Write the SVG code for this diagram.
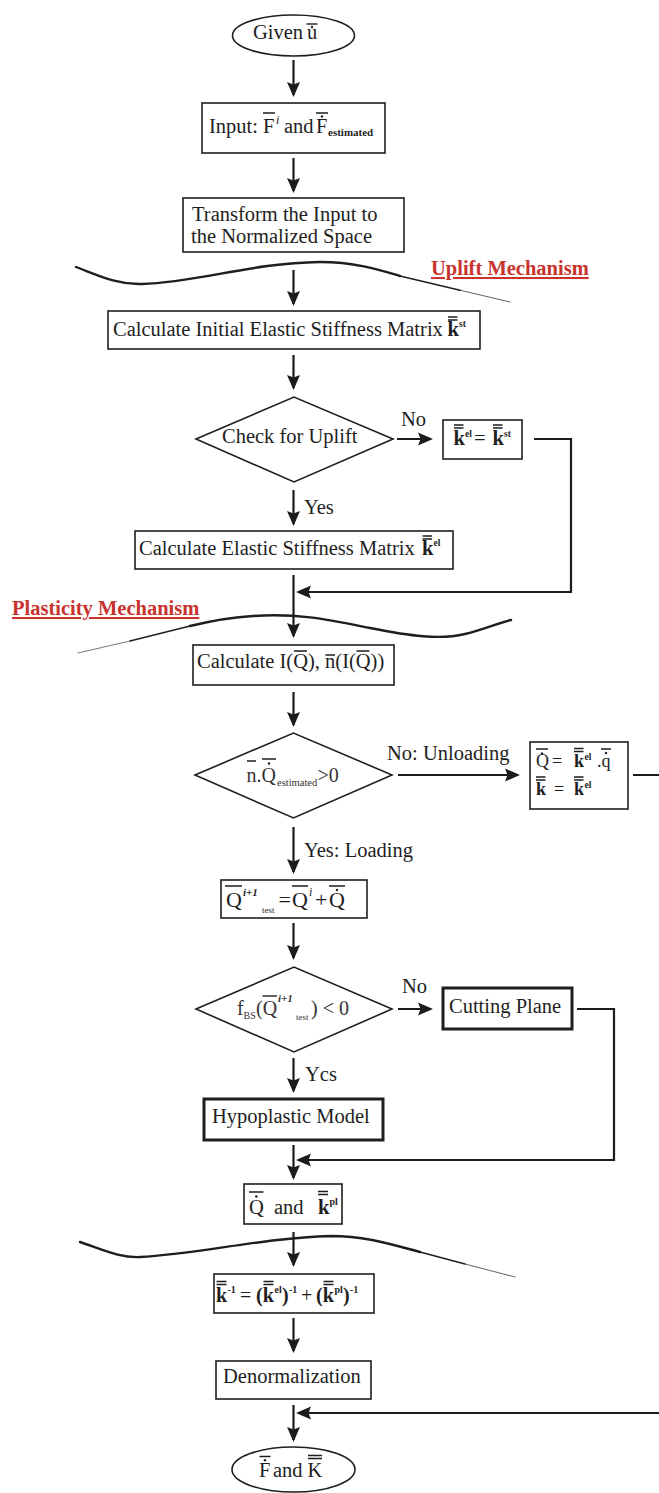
<svg xmlns="http://www.w3.org/2000/svg" width="659" height="1493" viewBox="0 0 659 1493">
  <defs>
    <marker id="ah" markerUnits="userSpaceOnUse" markerWidth="16" markerHeight="14" refX="13" refY="6.5" orient="auto" viewBox="0 0 16 13">
      <path d="M0,0 L15,6.5 L0,13 L2.5,6.5 Z" fill="#1c1c1c"/>
    </marker>
    <style>
      .t { font-family: "Liberation Serif", "Times New Roman", serif; font-size: 20.5px; fill: #1e1e1e; }
      .b { font-weight: bold; }
      .it { font-style: italic; }
      .gr { fill: #333; }
      .f9 { font-size: 9px; }
      .f95 { font-size: 9.5px; }
      .f10 { font-size: 10px; }
      .f105 { font-size: 10.5px; }
      .f11 { font-size: 11px; }
      .f12 { font-size: 12px; }
      .f18 { font-size: 18px; }
      .f20 { font-size: 20px; }
      .f22 { font-size: 22px; }
      .box { fill: #fff; stroke: #1e1e1e; stroke-width: 1.6; }
      .thick { stroke-width: 3; }
      .ov { fill: none; stroke: #1e1e1e; stroke-width: 1.4; }
      .dot { fill: #1e1e1e; }
      .conn { fill: none; stroke: #1c1c1c; stroke-width: 2.2; }
      .arr { marker-end: url(#ah); }
      .wave { fill: none; stroke: #1e1e1e; stroke-linecap: round; }
      .sec { font-family: "Liberation Serif", "Times New Roman", serif; font-size: 20.5px; font-weight: bold; fill: #c8332e; text-decoration: underline; }
    </style>
  </defs>

  <rect width="659" height="1493" fill="#fff"/>

  <!-- section dividers -->
  <g id="dividers">
    <path class="wave" stroke-width="2.4" d="M76,267 C100,276 118,285 142,284 C200,282 250,263 320,262 C355,262 380,270 400,276"/>
    <path class="wave" stroke-width="1.4" d="M400,276 L460,290.2"/>
    <path class="wave" stroke-width="0.7" stroke="#777" d="M460,290.2 L510,302"/>

    <path class="wave" stroke-width="0.6" stroke="#777" d="M78,653 L130,641"/>
    <path class="wave" stroke-width="1.3" d="M130,641 L190,626"/>
    <path class="wave" stroke-width="2.4" d="M190,626 C215,620 235,617 253,616 C300,613 330,620 370,628 C410,636 440,640 465,634 C485,629 498,623 511,620"/>

    <path class="wave" stroke-width="2.4" d="M80,1242 C104,1250 120,1258 140,1257 C200,1254 260,1238 331,1236 C365,1236 390,1244 420,1252"/>
    <path class="wave" stroke-width="1.4" d="M420,1252 L465,1264"/>
    <path class="wave" stroke-width="0.7" stroke="#777" d="M465,1264 L515,1277"/>

    <text class="sec" x="431" y="275">Uplift Mechanism</text>
    <text class="sec" x="12" y="615">Plasticity Mechanism</text>
  </g>

  <!-- connectors -->
  <g id="connectors">
    <path class="conn arr" d="M293.5,60 V95"/>
    <path class="conn arr" d="M293.5,158 V191"/>
    <path class="conn arr" d="M293.5,270 V304"/>
    <path class="conn arr" d="M293.5,355 V388"/>
    <path class="conn arr" d="M397,439 H431"/>
    <path class="conn arr" d="M534,439 H571 V592 H298"/>
    <path class="conn arr" d="M293.5,490 V524"/>
    <path class="conn arr" d="M293.5,575 V636"/>
    <path class="conn arr" d="M293.5,692 V725"/>
    <path class="conn arr" d="M398,775 H518"/>
    <path class="conn arr" d="M633,775 H672 V1413 H298"/>
    <path class="conn arr" d="M293.5,827 V872"/>
    <path class="conn arr" d="M293.5,923 V958"/>
    <path class="conn arr" d="M398,1009 H431"/>
    <path class="conn arr" d="M577,1009 H614 V1160 H298"/>
    <path class="conn arr" d="M293.5,1058 V1091"/>
    <path class="conn arr" d="M293.5,1145 V1178"/>
    <path class="conn arr" d="M293.5,1232 V1265"/>
    <path class="conn arr" d="M293.5,1318 V1351"/>
    <path class="conn arr" d="M293.5,1405 V1440"/>

    <text class="t" x="401" y="426">No</text>
    <text class="t" x="304" y="514">Yes</text>
    <text class="t" x="387" y="760">No: Unloading</text>
    <text class="t" x="304" y="857">Yes: Loading</text>
    <text class="t" x="402" y="993">No</text>
    <text class="t" x="305" y="1081">Ycs</text>
  </g>

  <!-- start -->
  <g id="start">
    <ellipse class="box" cx="293.5" cy="35.5" rx="61" ry="20.5"/>
    <text class="t" x="253" y="39">Given</text>
    <text class="t" x="307" y="39">u</text>
    <path class="ov" d="M306.5,24 h11"/>
    <circle class="dot" cx="312" cy="27" r="1.2"/>
  </g>

  <g id="input">
    <rect class="box" x="202" y="103" width="183" height="50"/>
    <text class="t" x="209" y="133">Input:</text>
    <text class="t" x="263" y="133">F</text>
    <text class="t it f12" x="276" y="124">i</text>
    <text class="t" x="284" y="133">and</text>
    <text class="t" x="316" y="133">F</text>
    <text class="t b f11" x="328" y="136">estimated</text>
    <path class="ov" d="M263,113 h12 M316,113 h12"/>
    <circle class="dot" cx="322" cy="116.5" r="1.2"/>
  </g>

  <g id="transform">
    <rect class="box" x="183" y="198" width="221" height="54"/>
    <text class="t" x="192" y="221">Transform the Input to</text>
    <text class="t" x="191" y="243">the Normalized Space</text>
  </g>

  <g id="initial-stiffness">
    <rect class="box" x="108" y="311" width="372" height="38"/>
    <text class="t" x="113" y="336">Calculate Initial Elastic Stiffness Matrix</text>
    <text class="t b" x="447.5" y="336">k</text>
    <text class="t b f95" x="459" y="327">st</text>
    <path class="ov" d="M448,317 h9.5 M448,320 h9.5"/>
  </g>

  <g id="check-uplift">
    <polygon class="box" points="196,439 294,397 393,439 294,482"/>
    <text class="t" x="222" y="443">Check for Uplift</text>
  </g>

  <g id="k-el-equals-k-st">
    <rect class="box" x="443" y="420" width="79" height="39"/>
    <text class="t b" x="453.5" y="445">k</text>
    <text class="t b f95" x="465" y="437">el</text>
    <text class="t" x="474" y="445">=</text>
    <text class="t b" x="492.5" y="445">k</text>
    <text class="t b f95" x="504" y="437">st</text>
    <path class="ov" d="M454,425 h9.5 M454,428 h9.5 M493,425 h9.5 M493,428 h9.5"/>
  </g>

  <g id="elastic-stiffness">
    <rect class="box" x="135" y="531" width="318" height="38"/>
    <text class="t" x="139" y="555">Calculate Elastic Stiffness Matrix</text>
    <text class="t b" x="422" y="555">k</text>
    <text class="t b f95" x="433.5" y="546">el</text>
    <path class="ov" d="M422.5,536 h9.5 M422.5,539 h9.5"/>
  </g>

  <g id="calc-i-n">
    <rect class="box" x="193" y="645" width="201" height="40"/>
    <text class="t" x="197" y="668">Calculate I(Q), n(I(Q))</text>
    <path class="ov" d="M294,651 h13 M325.5,655 h9.5 M356.5,651 h13"/>
  </g>

  <g id="loading-check">
    <polygon class="box" points="195,775 293.5,733 392,775 293.5,818"/>
    <text class="t gr f20" x="246.5" y="782">n.Q</text>
    <text class="t gr f105" x="277" y="786">estimated</text>
    <text class="t gr f20" x="317.5" y="782">&gt;0</text>
    <path class="ov" d="M247,761 h9 M262,759 h14"/>
    <circle class="dot" cx="269" cy="763.5" r="1.2"/>
  </g>

  <g id="unloading">
    <rect class="box" x="530" y="742" width="98" height="67"/>
    <text class="t f18" x="536" y="767">Q</text>
    <text class="t f18" x="552" y="767">=</text>
    <text class="t b f18" x="574" y="767">k</text>
    <text class="t b f95" x="584.5" y="760">el</text>
    <text class="t f18" x="597" y="767">.q</text>
    <text class="t b f18" x="536" y="795">k</text>
    <text class="t f18" x="554" y="795">=</text>
    <text class="t b f18" x="574" y="795">k</text>
    <text class="t b f95" x="584.5" y="788">el</text>
    <path class="ov" d="M536,749 h12 M574,748.5 h9.5 M574,751.5 h9.5 M601,749 h10 M536,777 h9.5 M536,780 h9.5 M574,777 h9.5 M574,780 h9.5"/>
    <circle class="dot" cx="542" cy="753.5" r="1.2"/>
    <circle class="dot" cx="606" cy="753" r="1.2"/>
  </g>

  <g id="trial-state">
    <rect class="box" x="221" y="880" width="146" height="38"/>
    <text class="t f22" x="226" y="907">Q</text>
    <text class="t it b f11" x="243" y="896">i+1</text>
    <text class="t f9" x="262" y="913">test</text>
    <text class="t f22" x="278.5" y="907">=</text>
    <text class="t f22" x="292" y="907">Q</text>
    <text class="t it f12" x="309" y="896">i</text>
    <text class="t f22" x="315" y="907">+</text>
    <text class="t f22" x="329" y="907">Q</text>
    <path class="ov" d="M225,886 h17 M292,886 h16 M329,886 h16"/>
    <circle class="dot" cx="337" cy="890" r="1.2"/>
  </g>

  <g id="yield-check">
    <polygon class="box" points="196,1009 294,967 392,1009 294,1052"/>
    <text class="t gr f20" x="237" y="1015">f</text>
    <text class="t gr f10" x="243.5" y="1019">BS</text>
    <text class="t gr f20" x="256" y="1015">(Q</text>
    <text class="t gr it b f11" x="278" y="1002">i+1</text>
    <text class="t gr f9" x="296" y="1020">test</text>
    <text class="t gr f20" x="311" y="1015">) &lt; 0</text>
    <path class="ov" d="M262.5,996 h14.5"/>
  </g>

  <g id="cutting-plane">
    <rect class="box thick" x="443" y="988" width="129" height="41"/>
    <text class="t" x="449" y="1013">Cutting Plane</text>
  </g>

  <g id="hypoplastic">
    <rect class="box thick" x="204" y="1099" width="179" height="41"/>
    <text class="t" x="212" y="1123">Hypoplastic Model</text>
  </g>

  <g id="plastic-result">
    <rect class="box" x="244" y="1184" width="98" height="40"/>
    <text class="t" x="249" y="1214">Q</text>
    <text class="t" x="274" y="1214">and</text>
    <text class="t b" x="318" y="1214">k</text>
    <text class="t b f10" x="329.5" y="1205">pl</text>
    <path class="ov" d="M249,1192 h14.5 M318,1191.5 h10 M318,1194.5 h10"/>
    <circle class="dot" cx="256.3" cy="1196.5" r="1.2"/>
  </g>

  <g id="combined-stiffness">
    <rect class="box" x="214" y="1274" width="160" height="39"/>
    <text class="t b f20" x="216" y="1302">k</text>
    <text class="t b f10" x="227.5" y="1293">-1</text>
    <text class="t f20" x="240" y="1302">=</text>
    <text class="t b f20" x="256" y="1302">(k</text>
    <text class="t b f10" x="274.5" y="1293">el</text>
    <text class="t b f20" x="282" y="1302">)</text>
    <text class="t b f10" x="289" y="1293">-1</text>
    <text class="t f20" x="301" y="1302">+</text>
    <text class="t b f20" x="316" y="1302">(k</text>
    <text class="t b f10" x="334.5" y="1293">pl</text>
    <text class="t b f20" x="343" y="1302">)</text>
    <text class="t b f10" x="350" y="1293">-1</text>
    <path class="ov" d="M216.5,1281.5 h10 M216.5,1284.5 h10 M263.5,1281.5 h10 M263.5,1284.5 h10 M323.5,1281.5 h10 M323.5,1284.5 h10"/>
  </g>

  <g id="denormalization">
    <rect class="box" x="216" y="1361" width="155" height="38"/>
    <text class="t" x="223" y="1383">Denormalization</text>
  </g>

  <g id="end">
    <ellipse class="box" cx="293.5" cy="1469.5" rx="61.5" ry="22.5"/>
    <text class="t" x="259" y="1477">F</text>
    <text class="t" x="273" y="1477">and</text>
    <text class="t" x="307.5" y="1477">K</text>
    <path class="ov" d="M259.5,1456.5 h11 M308,1455.5 h14 M308,1458.5 h14"/>
    <circle class="dot" cx="265" cy="1460.3" r="1.2"/>
  </g>
</svg>
